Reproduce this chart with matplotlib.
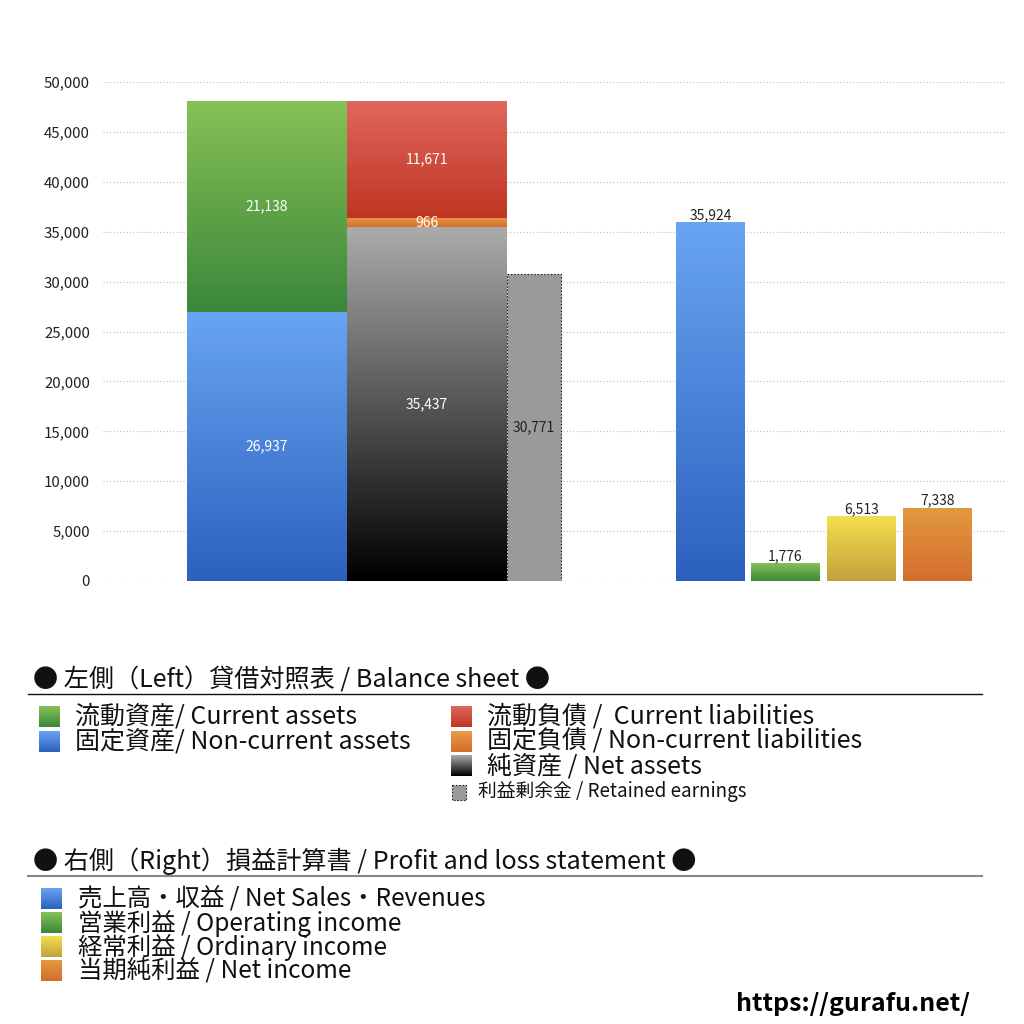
import numpy as np
import matplotlib
matplotlib.use('Agg')
import matplotlib.pyplot as plt
from matplotlib.colors import LinearSegmentedColormap
from matplotlib.patches import Rectangle

plt.rcParams['font.family'] = ['Noto Sans CJK JP', 'DejaVu Sans']

# 貸借対照表 (Balance sheet)
assets_labels = ['固定資産', '流動資産']
assets_values = [26937, 21138]
liab_labels = ['純資産', '固定負債', '流動負債']
liab_values = [35437, 966, 11671]
retained_earnings = 30771

# 損益計算書 (Profit and loss)
pl_labels = ['売上高・収益', '営業利益', '経常利益', '当期純利益']
pl_values = [35924, 1776, 6513, 7338]

# gradient colours (top, bottom)
C_BLUE = ('#68a5f2', '#2c60be')
C_GREEN = ('#87c156', '#3a873a')
C_RED = ('#e0675d', '#bf3522')
C_ORANGE = ('#eb9a45', '#d46d2c')
C_GRAY = ('#ababab', '#000000')
C_YELLOW = ('#f3df4f', '#c3a13a')
C_ORANGE2 = ('#e3993f', '#d36e2d')


def grad_cmap(c):
    return LinearSegmentedColormap.from_list('g', [c[1], c[0]])


def grad_bar(ax, x, h, w, c, bottom=0):
    bar = ax.bar(x, h, w, bottom=bottom, color='none', edgecolor='none')[0]
    g = np.linspace(0, 1, 256).reshape(-1, 1)
    im = ax.imshow(g, cmap=grad_cmap(c), origin='lower', aspect='auto',
                   extent=[x - w / 2, x + w / 2, bottom, bottom + h], zorder=2)
    im.set_clip_path(bar)
    return bar


fig = plt.figure(figsize=(10.24, 10.24), dpi=100)
W = H = 1024.0
ax = fig.add_axes([103 / W, 1 - 581 / H, (1006 - 103) / W, (581 - 82) / H])
ax.set_xlim(0, 903)
ax.set_ylim(0, 50000)

LBL = 10

# left: balance sheet
xa, xl, xr = 164, 324, 431
wa, wr = 160, 54
bottom = 0
for v, c in zip(assets_values, [C_BLUE, C_GREEN]):
    grad_bar(ax, xa, v, wa, c, bottom)
    ax.text(xa, bottom + v / 2, f'{v:,}', ha='center', va='center',
            color='white', fontsize=LBL, zorder=4)
    bottom += v
bottom = 0
for v, c in zip(liab_values, [C_GRAY, C_ORANGE, C_RED]):
    grad_bar(ax, xl, v, wa, c, bottom)
    ax.text(xl, bottom + v / 2, f'{v:,}', ha='center', va='center',
            color='white', fontsize=LBL, zorder=4)
    bottom += v
ax.bar(xr, retained_earnings, wr, color='#9a9a9a', edgecolor='#222222',
       linestyle=(0, (1.5, 1.5)), linewidth=0.8, zorder=2)
ax.text(xr, retained_earnings / 2, f'{retained_earnings:,}', ha='center',
        va='center', color='#222222', fontsize=LBL, zorder=4)

# right: profit and loss
pl_x = [607.5, 682.5, 758.5, 834.5]
pl_colors = [C_BLUE, C_GREEN, C_YELLOW, C_ORANGE2]
for x, v, c in zip(pl_x, pl_values, pl_colors):
    grad_bar(ax, x, v, 69, c)
    ax.text(x, v + 700, f'{v:,}', ha='center', va='center',
            color='#222222', fontsize=LBL, zorder=4)

ax.set_yticks(np.arange(0, 50001, 5000))
ax.yaxis.set_major_formatter(matplotlib.ticker.FuncFormatter(lambda v, p: f'{int(v):,}'))
ax.tick_params(axis='y', length=0, labelsize=10.8, pad=9.4, labelcolor='#222222')
ax.set_xticks([])
ax.grid(axis='y', color='#bdbdbd', linestyle=(0, (1, 2)), linewidth=0.8)
ax.set_axisbelow(True)
for s in ax.spines.values():
    s.set_visible(False)

# legend area drawn in pixel coordinates
lg = fig.add_axes([0, 0, 1, 1], zorder=5)
lg.set_xlim(0, W)
lg.set_ylim(H, 0)
lg.axis('off')


def swatch(x, y, c, size=21):
    g = np.linspace(1, 0, 64).reshape(-1, 1)
    lg.imshow(g, cmap=grad_cmap(c), origin='upper', aspect='auto',
              extent=[x, x + size, y + size / 2, y - size / 2])


HEAD = 18.1
ITEM = 18

lg.text(33, 680, '● 左側（Left）貸借対照表 / Balance sheet ●', fontsize=HEAD,
        va='center', ha='left', color='#111111')
lg.plot([28, 982], [694, 694], color='#111111', linewidth=1)

left_items = [('流動資産/ Current assets', C_GREEN), ('固定資産/ Non-current assets', C_BLUE)]
right_items = [('流動負債 /  Current liabilities', C_RED),
               ('固定負債 / Non-current liabilities', C_ORANGE),
               ('純資産 / Net assets', C_GRAY)]
for i, (t, c) in enumerate(left_items):
    y = 717 + i * 24.5
    swatch(39, y, c)
    lg.text(75, y, t, fontsize=ITEM, va='center', ha='left', color='#111111')
for i, (t, c) in enumerate(right_items):
    y = 717 + i * 24.5
    swatch(451, y, c)
    lg.text(487, y, t, fontsize=ITEM, va='center', ha='left', color='#111111')
lg.add_patch(Rectangle((452, 785), 14, 15, facecolor='#9a9a9a', edgecolor='#222222',
                       linestyle=(0, (1.5, 1.5)), linewidth=0.8))
lg.text(478, 792, '利益剰余金 / Retained earnings', fontsize=13.5, va='center',
        ha='left', color='#111111')

lg.text(33, 861, '● 右側（Right）損益計算書 / Profit and loss statement ●', fontsize=HEAD,
        va='center', ha='left', color='#111111')
lg.plot([28, 982], [876, 876], color='#888888', linewidth=1.5)

pl_items = ['売上高・収益 / Net Sales・Revenues', '営業利益 / Operating income',
            '経常利益 / Ordinary income', '当期純利益 / Net income']
for i, (t, c) in enumerate(zip(pl_items, pl_colors)):
    y = 899 + i * 24
    swatch(41, y, c)
    lg.text(78, y, t, fontsize=17.6, va='center', ha='left', color='#111111')

lg.text(970, 1004, 'https://gurafu.net/', fontsize=18, fontweight='bold',
        va='center', ha='right', color='#000000')

fig.savefig('out.png', dpi=100)
